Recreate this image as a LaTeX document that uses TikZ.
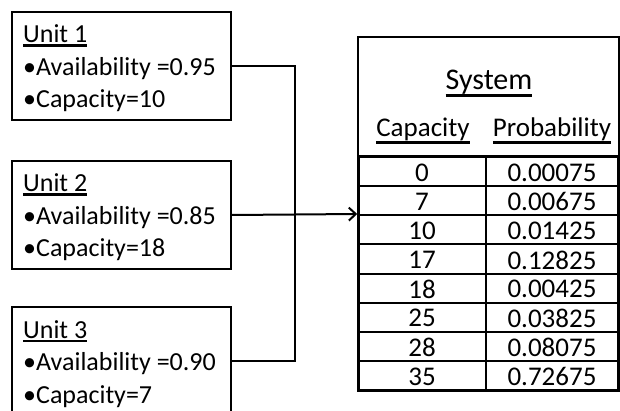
\documentclass[tikz,border=0pt]{standalone}
\usepackage{fontspec}
\setmainfont{Carlito}
\usetikzlibrary{arrows.meta}

% underline with a heavier rule, optional depth below the baseline
\newcommand{\undl}[2][4]{\setbox0\hbox{#2}\rlap{\rule[-#1pt]{\wd0}{2.5pt}}\box0}

\tikzset{
  unitbox/.style={draw, line width=2pt, minimum width=219pt, minimum height=108pt, inner sep=0pt},
  unittext/.style={anchor=base west, inner sep=0pt, font=\fontsize{26}{30}\selectfont},
  cell/.style={inner sep=0pt, font=\fontsize{27}{27}\selectfont},
  head/.style={anchor=base, inner sep=0pt, font=\fontsize{27}{27}\selectfont},
  wire/.style={line width=2pt}
}

\begin{document}
\begin{tikzpicture}[x=1pt, y=-1pt]
  \useasboundingbox (0,0) rectangle (620,411);
  \clip (0,0) rectangle (620,411);

  % units
  \foreach \n/\t/\a/\c in {1/12/0.95/10, 2/161/0.85/18, 3/307/0.90/7} {
    \node[unitbox] (u\n) at (121.5,\t+54) {};
    \node[unittext] (u\n name) at (23,\t+31) {\undl{Unit \n}};
    \node[unittext] (u\n avail) at (23,\t+63.5) {•Availability =\a};
    \node[unittext] (u\n cap) at (23,\t+96) {•Capacity=\c};
  }

  % system table
  \node[draw, line width=1.5pt, minimum width=261pt, minimum height=354pt, inner sep=0pt] (sys) at (488.5,214) {};
  \node[head, font=\fontsize{30}{30}\selectfont] (title) at (489,90) {\undl[7]{System}};
  \node[head] (caphead) at (423,137) {\undl[7]{Capacity}};
  \node[head] (probhead) at (552,137) {\undl[7]{Probability}};
  \foreach \c/\p [count=\i] in {0/0.00075, 7/0.00675, 10/0.01425, 17/0.12825,
      18/0.00425, 25/0.03825, 28/0.08075, 35/0.72675} {
    \node[cell] (cap\i) at (422,{157+29.125*(\i-0.5)+1}) {\c};
    \node[cell] (prob\i) at (552,{157+29.125*(\i-0.5)+1}) {\p};
  }
  \foreach \i in {1,...,7}
    \draw[line width=2pt] (358,{157+29.125*\i}) -- (618,{157+29.125*\i});
  \draw[line width=2pt] (486,157) -- (486,390);
  \draw[line width=3pt] (358,157) rectangle (618,390);

  % connectors
  \draw[wire] (u1.east) -- ++(63,0) coordinate (bus) |- (u3.east);
  \draw[wire, -{Straight Barb[length=7pt, width=13pt]}] (u2.east) -- (sys.west);
\end{tikzpicture}
\end{document}
